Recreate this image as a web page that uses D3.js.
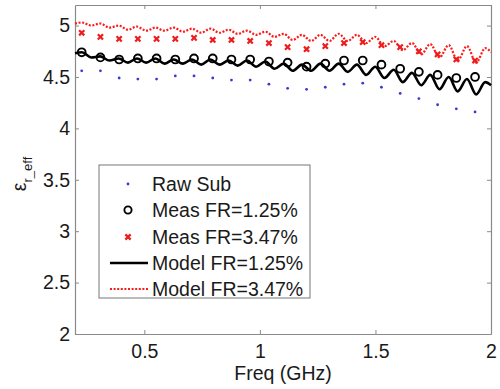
<!DOCTYPE html>
<html>
<head>
<meta charset="utf-8">
<script src="https://cdn.jsdelivr.net/npm/d3@7"></script>
<style>
  html, body { margin: 0; padding: 0; background: #fff; }
  svg { display: block; }
  text { font-family: "Liberation Sans", Arial, sans-serif; }
</style>
</head>
<body>
<div id="chart"></div>
<script>
// ---------- data ----------
const measFreq = [0.229, 0.310, 0.391, 0.472, 0.553, 0.634, 0.715, 0.796, 0.877, 0.958, 1.039,
                  1.120, 1.202, 1.283, 1.364, 1.445, 1.526, 1.607, 1.688, 1.769, 1.850, 1.931];
const rawSub   = [4.56, 4.56, 4.49, 4.48, 4.48, 4.51, 4.51, 4.49, 4.47, 4.47, 4.43,
                  4.39, 4.38, 4.40, 4.43, 4.44, 4.40, 4.34, 4.29, 4.23, 4.19, 4.16];
const meas125  = [4.74, 4.69, 4.67, 4.68, 4.68, 4.67, 4.68, 4.68, 4.67, 4.67, 4.65,
                  4.64, 4.60, 4.63, 4.66, 4.66, 4.62, 4.58, 4.55, 4.52, 4.49, 4.50];
const meas347  = [4.93, 4.89, 4.87, 4.87, 4.87, 4.87, 4.88, 4.86, 4.86, 4.85, 4.83,
                  4.79, 4.77, 4.80, 4.83, 4.84, 4.81, 4.79, 4.75, 4.72, 4.67, 4.66];

const modelFreq = [0.2, 0.230, 0.270, 0.309, 0.349, 0.389, 0.429, 0.468, 0.508, 0.548, 0.587,
                   0.627, 0.667, 0.706, 0.746, 0.786, 0.825, 0.865, 0.904, 0.944, 0.984,
                   1.024, 1.063, 1.103, 1.142, 1.182, 1.222, 1.262, 1.301, 1.341, 1.380,
                   1.420, 1.460, 1.499, 1.539, 1.579, 1.618, 1.658, 1.698, 1.737, 1.777,
                   1.817, 1.856, 1.896, 1.936, 1.975, 2.0];
const model125  = [4.73, 4.74, 4.69, 4.70, 4.66, 4.68, 4.64, 4.68, 4.64, 4.68, 4.63,
                   4.67, 4.63, 4.67, 4.62, 4.67, 4.62, 4.66, 4.61, 4.66, 4.60,
                   4.65, 4.58, 4.63, 4.56, 4.62, 4.56, 4.63, 4.56, 4.63, 4.55,
                   4.62, 4.52, 4.60, 4.49, 4.57, 4.45, 4.54, 4.42, 4.52, 4.38,
                   4.50, 4.36, 4.48, 4.33, 4.45, 4.42];
const model347  = [5.02, 5.03, 5.00, 5.02, 4.98, 5.00, 4.96, 4.99, 4.95, 4.98, 4.95,
                   4.98, 4.94, 4.97, 4.93, 4.97, 4.93, 4.96, 4.92, 4.95, 4.91,
                   4.94, 4.89, 4.92, 4.86, 4.91, 4.85, 4.91, 4.85, 4.92, 4.85,
                   4.91, 4.83, 4.89, 4.80, 4.85, 4.76, 4.83, 4.72, 4.82, 4.69,
                   4.81, 4.66, 4.80, 4.64, 4.78, 4.74];

const xTicks = [0.5, 1, 1.5, 2];
const xTickLabels = ["0.5", "1", "1.5", "2"];
const yTicks = [2, 2.5, 3, 3.5, 4, 4.5, 5];
const yTickLabels = ["2", "2.5", "3", "3.5", "4", "4.5", "5"];
const legendLabels = ["Raw Sub", "Meas FR=1.25%", "Meas FR=3.47%", "Model FR=1.25%", "Model FR=3.47%"];

// ---------- layout ----------
const W = 500, H = 389;
const L = 75, R = 491, T = 5, B = 334;
const FS = 19.5;
const axisColor = "#8a8a8a";
const textColor = "#1a1a1a";

const svg = d3.select("#chart").append("svg").attr("width", W).attr("height", H);
svg.append("rect").attr("width", W).attr("height", H).attr("fill", "#fff");

const x = d3.scaleLinear().domain([0.2, 2]).range([L, R]);
const y = d3.scaleLinear().domain([2, 5.2]).range([B, T]);

function styleAxis(g) {
  g.selectAll("path.domain").attr("stroke", axisColor).attr("stroke-width", 1.2);
  g.selectAll(".tick line").attr("stroke", axisColor).attr("stroke-width", 1);
  g.selectAll(".tick text").attr("fill", textColor).style("font-size", FS + "px")
    .style("font-family", "'Liberation Sans', Arial, sans-serif");
}

// bottom
const gx = svg.append("g").attr("transform", `translate(0,${B})`)
  .call(d3.axisBottom(x).tickValues(xTicks).tickFormat((d, i) => xTickLabels[i])
        .tickSizeInner(-4).tickSizeOuter(0).tickPadding(10));
styleAxis(gx);
// top
const gxt = svg.append("g").attr("transform", `translate(0,${T})`)
  .call(d3.axisTop(x).tickValues(xTicks).tickFormat("").tickSizeInner(-4).tickSizeOuter(0));
styleAxis(gxt);
// left
const gy = svg.append("g").attr("transform", `translate(${L},0)`)
  .call(d3.axisLeft(y).tickValues(yTicks).tickFormat((d, i) => yTickLabels[i])
        .tickSizeInner(-4).tickSizeOuter(0).tickPadding(5));
styleAxis(gy);
// right
const gyr = svg.append("g").attr("transform", `translate(${R},0)`)
  .call(d3.axisRight(y).tickValues(yTicks).tickFormat("").tickSizeInner(-4).tickSizeOuter(0));
styleAxis(gyr);

// axis labels
svg.append("text").attr("x", (L + R) / 2).attr("y", 380).attr("text-anchor", "middle")
  .attr("fill", textColor).style("font-size", FS + "px").text("Freq (GHz)");

const yl = svg.append("text").attr("transform", "translate(26,174) rotate(-90)")
  .attr("text-anchor", "middle").attr("fill", textColor).style("font-size", FS + "px");
yl.append("tspan").text("ε");
yl.append("tspan").attr("dy", 6).style("font-size", "13px").text("r_eff");

// ---------- lines ----------
const lineGen = (vals) => d3.line().curve(d3.curveMonotoneX)
  .x((d, i) => x(modelFreq[i])).y(d => y(d))(vals);

svg.append("path").attr("d", lineGen(model125)).attr("fill", "none")
  .attr("stroke", "#000").attr("stroke-width", 2.6);
svg.append("path").attr("d", lineGen(model347)).attr("fill", "none")
  .attr("stroke", "#ff1a1a").attr("stroke-width", 2.2).attr("stroke-dasharray", "2,1.6");

// ---------- markers ----------
svg.append("g").selectAll("circle").data(rawSub).join("circle")
  .attr("cx", (d, i) => x(measFreq[i])).attr("cy", d => y(d)).attr("r", 1.4)
  .attr("fill", "#3a3ad0");

svg.append("g").selectAll("circle").data(meas125).join("circle")
  .attr("cx", (d, i) => x(measFreq[i])).attr("cy", d => y(d)).attr("r", 3.9)
  .attr("fill", "none").attr("stroke", "#000").attr("stroke-width", 1.9);

const xm = 2.6;
function xPath(cx, cy) {
  return `M${cx - xm},${cy - xm}L${cx + xm},${cy + xm}M${cx - xm},${cy + xm}L${cx + xm},${cy - xm}`;
}
svg.append("g").selectAll("path").data(meas347).join("path")
  .attr("d", (d, i) => xPath(x(measFreq[i]), y(d)))
  .attr("stroke", "#ee1c1c").attr("stroke-width", 2.2).attr("fill", "none");

// ---------- legend ----------
const lg = svg.append("g");
lg.append("rect").attr("x", 99).attr("y", 165).attr("width", 211).attr("height", 133)
  .attr("fill", "#fff").attr("stroke", "#777").attr("stroke-width", 1);
const rowY = [184, 210, 237, 263, 289];
const sx = 128;
lg.append("circle").attr("cx", sx).attr("cy", rowY[0]).attr("r", 1.4).attr("fill", "#3a3ad0");
lg.append("circle").attr("cx", sx).attr("cy", rowY[1]).attr("r", 3.6)
  .attr("fill", "none").attr("stroke", "#000").attr("stroke-width", 1.9);
lg.append("path").attr("d", xPath(sx, rowY[2])).attr("stroke", "#ee1c1c")
  .attr("stroke-width", 2.2).attr("fill", "none");
lg.append("line").attr("x1", 110).attr("x2", 148).attr("y1", rowY[3]).attr("y2", rowY[3])
  .attr("stroke", "#000").attr("stroke-width", 2.6);
lg.append("line").attr("x1", 110).attr("x2", 148).attr("y1", rowY[4]).attr("y2", rowY[4])
  .attr("stroke", "#ff1a1a").attr("stroke-width", 2.2).attr("stroke-dasharray", "2,1.6");
legendLabels.forEach((t, i) => {
  lg.append("text").attr("x", 152).attr("y", rowY[i]).attr("dy", "0.36em")
    .attr("fill", textColor).style("font-size", FS + "px").text(t);
});
</script>
</body>
</html>
